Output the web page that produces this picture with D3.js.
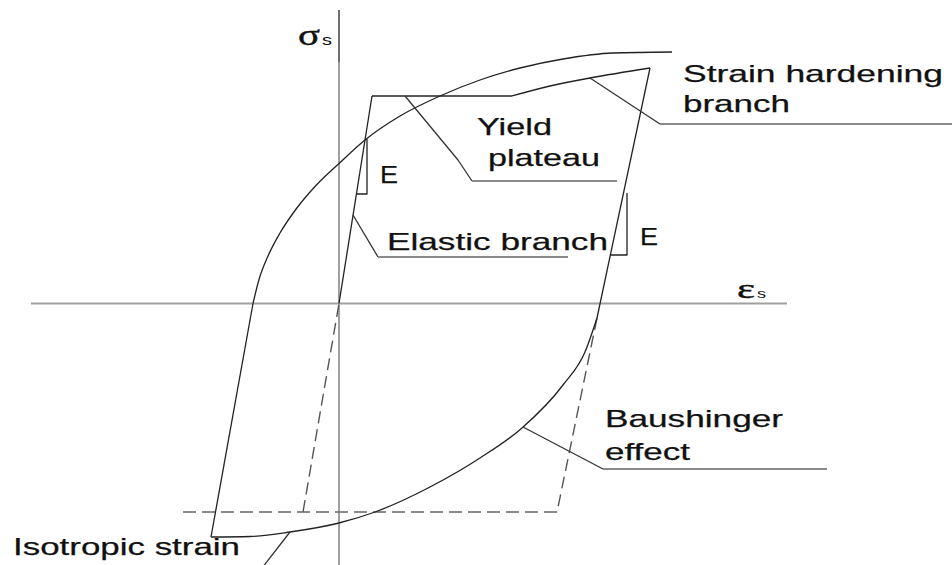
<!DOCTYPE html>
<html>
<head>
<meta charset="utf-8">
<script src="https://cdn.jsdelivr.net/npm/d3@7"></script>
<style>
  html, body { margin: 0; padding: 0; background: #fff; }
  svg { display: block; }
</style>
</head>
<body>
<svg id="chart" width="952" height="565"></svg>
<script>
// Cyclic stress–strain model of reinforcing steel.
// Points are [strain, stress]; strain in arbitrary strain units, stress in MPa.

// Axis extents
const strainAxis = [-7.7, 11.2];
const stressAxis = [-523, 587];
const stressAxisDarkTop = 483;

// Monotonic branches
const elasticBranch = [[0, 0], [0.825, 415]];
const elasticBranchBelow = [[-0.9, -417], [0, 0]];
const yieldPlateau = [[0.825, 415], [4.325, 415]];
const hardeningBranch = [[4.325, 415], [5.275, 435], [6.275, 451], [7.775, 471]];

// Hysteresis loop
const unloadingBranch = [[6.45, -29], [7.775, 471]];
const baushingerCurve = [[-3.2, -467], [-2.225, -466], [-1.225, -457], [0, -439], [0.9, -417],
  [2.275, -367], [3.525, -309], [4.575, -249], [5.6, -163], [6.15, -97], [6.45, -29]];
const reloadingBranch = [[-3.2, -467], [-2.15, 0]];
const isotropicCurve = [[-2.15, 0], [-2.0, 48], [-1.775, 95], [-1.475, 141], [-1.1, 186],
  [-0.6, 234], [0, 280], [0.65, 327], [1.525, 375], [2.525, 415], [3.525, 447],
  [4.525, 471], [5.6, 489], [6.85, 501], [8.325, 503]];

// Elastic unloading without hardening (dashed)
const elasticUnloadDashed = [[6.45, -29], [5.45, -417]];
const compressionYieldDashed = [[5.45, -417], [-4.05, -417]];

// Slope markers "E"
const slopeMarkerLeft = [[0.7, 329], [0.7, 219], [0.435, 219]];
const slopeMarkerRight = [[7.2, 221], [7.2, 97], [6.784, 97]];

// Leader lines: slanted part, then horizontal underline
const leaderHardening = [[6.275, 451], [8.025, 359]];
const underlineHardening = [[8.025, 359], [15.325, 359]];
const leaderPlateau = [[1.65, 415], [2.975, 287], [3.325, 245]];
const underlinePlateau = [[3.325, 245], [6.95, 245]];
const leaderElastic = [[0.35, 177], [0.975, 93]];
const underlineElastic = [[0.975, 93], [5.725, 93]];
const leaderBaushinger = [[4.6, -247], [6.6, -331]];
const underlineBaushinger = [[6.6, -331], [12.2, -331]];
const leaderIsotropic = [[-1.225, -457], [-1.925, -529]];

// Label texts with anchor (strain, stress) and drawn width
const labelTexts = ["Strain hardening", "branch", "Yield", "plateau", "E", "Elastic branch",
  "E", "Baushinger", "effect", "Isotropic strain"];
const labelAnchors = [[8.6, 443], [8.6, 383], [3.45, 337], [3.725, 275], [1.025, 241],
  [1.2, 107], [7.525, 117], [6.65, -247], [6.65, -313], [-8.15, -503]];
const labelWidths = [260, 107, 75, 112, 18, 221, 18, 178, 85, 227];

const svg = d3.select("#chart");

const x = d3.scaleLinear().domain([-7.7, 11.2]).range([31, 787]);
const y = d3.scaleLinear().domain([-500, 600]).range([553.5, 3.5]);

const straight = d3.line().x(d => x(d[0])).y(d => y(d[1]));
const smooth = d3.line().x(d => x(d[0])).y(d => y(d[1])).curve(d3.curveMonotoneX);

function draw(points, gen, stroke, width, dash) {
  const p = svg.append("path")
    .attr("d", gen(points))
    .attr("fill", "none")
    .attr("stroke", stroke)
    .attr("stroke-width", width)
    .attr("stroke-linejoin", "round");
  if (dash) p.attr("stroke-dasharray", dash);
  return p;
}

// Axes through the origin
draw([[strainAxis[0], 0], [strainAxis[1], 0]], straight, "#a0a0a0", 2);
draw([[0, stressAxis[0]], [0, stressAxisDarkTop]], straight, "#a0a0a0", 2);
draw([[0, stressAxisDarkTop], [0, stressAxis[1]]], straight, "#222", 1.3);

// Dashed reference paths
draw(elasticBranchBelow, straight, "#555", 1.4, "12,6");
draw(elasticUnloadDashed, straight, "#555", 1.4, "12,6");
draw(compressionYieldDashed, straight, "#666", 1.4, "13,6");

// Monotonic curve
draw(elasticBranch, straight, "#222", 1.3);
draw(yieldPlateau, straight, "#222", 1.3);
draw(hardeningBranch, smooth, "#222", 1.3);

// Hysteresis loop
draw(unloadingBranch, straight, "#222", 1.3);
draw(baushingerCurve, smooth, "#222", 1.3);
draw(reloadingBranch, straight, "#222", 1.3);
draw(isotropicCurve, smooth, "#222", 1.3);

// Slope markers
draw(slopeMarkerLeft, straight, "#222", 1.3);
draw(slopeMarkerRight, straight, "#222", 1.3);

// Leaders
[leaderHardening, leaderPlateau, leaderElastic, leaderBaushinger, leaderIsotropic]
  .forEach(l => draw(l, straight, "#333", 1.3));
[underlineHardening, underlinePlateau, underlineElastic, underlineBaushinger]
  .forEach(l => draw(l, straight, "#8a8a8a", 1.8));

// Labels
const font = "'Liberation Sans', Arial, sans-serif";
labelTexts.forEach((t, i) => {
  svg.append("text")
    .attr("x", x(labelAnchors[i][0]))
    .attr("y", y(labelAnchors[i][1]))
    .attr("font-family", font)
    .attr("font-size", 24)
    .attr("fill", "#111")
    .attr("stroke", "#111")
    .attr("stroke-width", 0.25)
    .attr("textLength", labelWidths[i])
    .attr("lengthAdjust", "spacingAndGlyphs")
    .text(t);
});

// Axis titles σs and εs
function axisTitle(sym, sx, sy, symSize, symWidth, subSize, subWidth, gap) {
  svg.append("text")
    .attr("x", x(sx)).attr("y", y(sy))
    .attr("font-family", "'Liberation Serif', 'DejaVu Serif', serif")
    .attr("font-size", symSize).attr("fill", "#111")
    .attr("stroke", "#111").attr("stroke-width", 0.4)
    .attr("textLength", symWidth).attr("lengthAdjust", "spacingAndGlyphs")
    .text(sym);
  svg.append("text")
    .attr("x", x(sx) + symWidth + gap).attr("y", y(sy))
    .attr("font-family", font)
    .attr("font-size", subSize).attr("fill", "#111")
    .attr("textLength", subWidth).attr("lengthAdjust", "spacingAndGlyphs")
    .text("s");
}
axisTitle("σ", -1.025, 517, 30, 22, 15, 10, 2);
axisTitle("ε", 9.95, 11, 28, 18, 13, 9, 2);
</script>
</body>
</html>
